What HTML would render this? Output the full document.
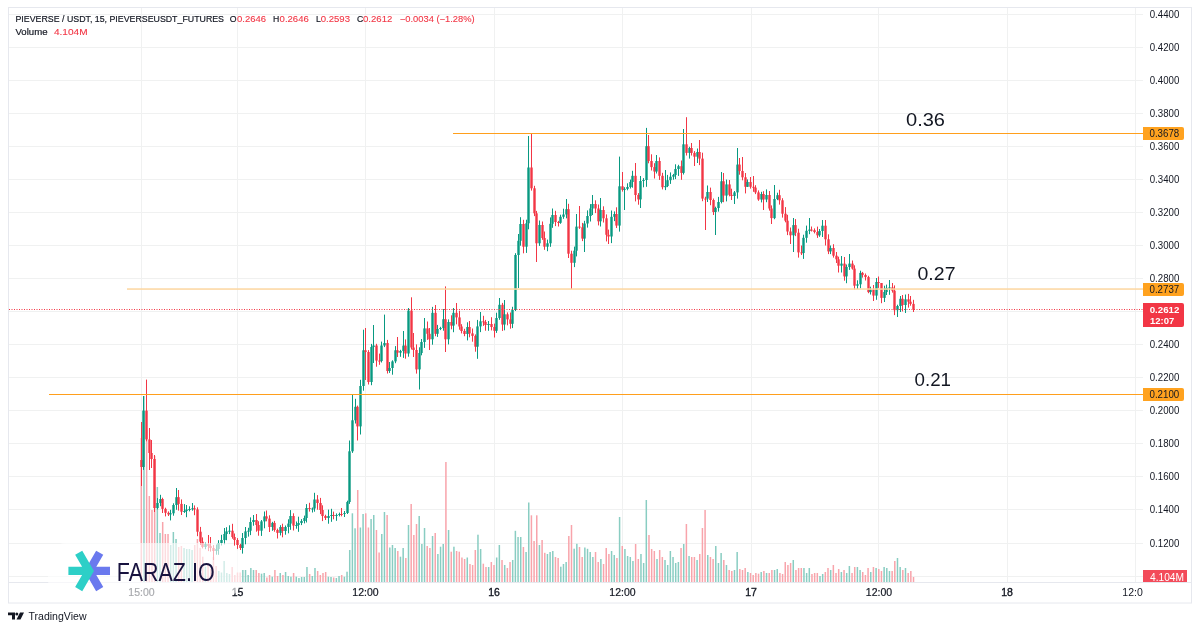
<!DOCTYPE html>
<html><head><meta charset="utf-8">
<style>
html,body{margin:0;padding:0;background:#fff;width:1200px;height:630px;overflow:hidden}
svg{display:block;will-change:transform}
text{font-family:"Liberation Sans",sans-serif}
</style></head>
<body>
<svg width="1200" height="630" viewBox="0 0 1200 630">
<rect x="0" y="0" width="1200" height="630" fill="#fff"/>
<rect x="9" y="14.00" width="1134" height="1" fill="#f0f1f1"/>
<rect x="9" y="47.00" width="1134" height="1" fill="#f0f1f1"/>
<rect x="9" y="80.00" width="1134" height="1" fill="#f0f1f1"/>
<rect x="9" y="113.00" width="1134" height="1" fill="#f0f1f1"/>
<rect x="9" y="146.00" width="1134" height="1" fill="#f0f1f1"/>
<rect x="9" y="179.00" width="1134" height="1" fill="#f0f1f1"/>
<rect x="9" y="212.00" width="1134" height="1" fill="#f0f1f1"/>
<rect x="9" y="245.00" width="1134" height="1" fill="#f0f1f1"/>
<rect x="9" y="278.00" width="1134" height="1" fill="#f0f1f1"/>
<rect x="9" y="311.00" width="1134" height="1" fill="#f0f1f1"/>
<rect x="9" y="344.00" width="1134" height="1" fill="#f0f1f1"/>
<rect x="9" y="377.00" width="1134" height="1" fill="#f0f1f1"/>
<rect x="9" y="410.00" width="1134" height="1" fill="#f0f1f1"/>
<rect x="9" y="443.00" width="1134" height="1" fill="#f0f1f1"/>
<rect x="9" y="476.00" width="1134" height="1" fill="#f0f1f1"/>
<rect x="9" y="509.00" width="1134" height="1" fill="#f0f1f1"/>
<rect x="9" y="543.00" width="1134" height="1" fill="#f0f1f1"/>
<rect x="9" y="576.00" width="1134" height="1" fill="#f0f1f1"/>
<rect x="141" y="8" width="1" height="574" fill="#f0f1f1"/>
<rect x="237" y="8" width="1" height="574" fill="#f0f1f1"/>
<rect x="365" y="8" width="1" height="574" fill="#f0f1f1"/>
<rect x="494" y="8" width="1" height="574" fill="#f0f1f1"/>
<rect x="622" y="8" width="1" height="574" fill="#f0f1f1"/>
<rect x="751" y="8" width="1" height="574" fill="#f0f1f1"/>
<rect x="878" y="8" width="1" height="574" fill="#f0f1f1"/>
<rect x="1007" y="8" width="1" height="574" fill="#f0f1f1"/>
<rect x="1135" y="8" width="1" height="574" fill="#f0f1f1"/>
<!-- chart border -->
<rect x="8.5" y="7.5" width="1183" height="595.5" fill="none" stroke="#e6e8ee" stroke-width="1"/>
<rect x="9" y="582" width="1182" height="1" fill="#e6e8ee"/>
<g id="vol"><rect x="140.55" y="438.0" width="1.5" height="144.0" fill="#f8a4ab"/>
<rect x="143.22" y="396.0" width="1.5" height="186.0" fill="#89cdc2"/>
<rect x="145.89" y="430.0" width="1.5" height="152.0" fill="#f8a4ab"/>
<rect x="148.57" y="496.0" width="1.5" height="86.0" fill="#f8a4ab"/>
<rect x="151.24" y="510.0" width="1.5" height="72.0" fill="#f8a4ab"/>
<rect x="153.91" y="456.0" width="1.5" height="126.0" fill="#f8a4ab"/>
<rect x="156.58" y="487.0" width="1.5" height="95.0" fill="#89cdc2"/>
<rect x="159.25" y="533.0" width="1.5" height="49.0" fill="#89cdc2"/>
<rect x="161.93" y="522.0" width="1.5" height="60.0" fill="#f8a4ab"/>
<rect x="164.60" y="534.0" width="1.5" height="48.0" fill="#f8a4ab"/>
<rect x="167.27" y="534.0" width="1.5" height="48.0" fill="#f8a4ab"/>
<rect x="169.94" y="545.0" width="1.5" height="37.0" fill="#89cdc2"/>
<rect x="172.61" y="532.0" width="1.5" height="50.0" fill="#89cdc2"/>
<rect x="175.29" y="539.0" width="1.5" height="43.0" fill="#89cdc2"/>
<rect x="177.96" y="547.0" width="1.5" height="35.0" fill="#f8a4ab"/>
<rect x="180.63" y="546.0" width="1.5" height="36.0" fill="#f8a4ab"/>
<rect x="183.30" y="548.0" width="1.5" height="34.0" fill="#89cdc2"/>
<rect x="185.97" y="549.0" width="1.5" height="33.0" fill="#89cdc2"/>
<rect x="188.65" y="549.0" width="1.5" height="33.0" fill="#89cdc2"/>
<rect x="191.32" y="550.0" width="1.5" height="32.0" fill="#89cdc2"/>
<rect x="193.99" y="545.0" width="1.5" height="37.0" fill="#f8a4ab"/>
<rect x="196.66" y="539.0" width="1.5" height="43.0" fill="#f8a4ab"/>
<rect x="199.33" y="547.9" width="1.5" height="34.1" fill="#f8a4ab"/>
<rect x="202.01" y="556.7" width="1.5" height="25.3" fill="#f8a4ab"/>
<rect x="204.68" y="566.7" width="1.5" height="15.3" fill="#89cdc2"/>
<rect x="207.35" y="563.0" width="1.5" height="19.0" fill="#f8a4ab"/>
<rect x="210.02" y="569.0" width="1.5" height="13.0" fill="#f8a4ab"/>
<rect x="212.69" y="557.0" width="1.5" height="25.0" fill="#f8a4ab"/>
<rect x="215.37" y="566.0" width="1.5" height="16.0" fill="#f8a4ab"/>
<rect x="218.04" y="571.0" width="1.5" height="11.0" fill="#89cdc2"/>
<rect x="220.71" y="572.5" width="1.5" height="9.5" fill="#89cdc2"/>
<rect x="223.38" y="561.0" width="1.5" height="21.0" fill="#89cdc2"/>
<rect x="226.05" y="573.0" width="1.5" height="9.0" fill="#89cdc2"/>
<rect x="228.73" y="574.0" width="1.5" height="8.0" fill="#89cdc2"/>
<rect x="231.40" y="567.0" width="1.5" height="15.0" fill="#f8a4ab"/>
<rect x="234.07" y="575.0" width="1.5" height="7.0" fill="#f8a4ab"/>
<rect x="236.74" y="572.5" width="1.5" height="9.5" fill="#f8a4ab"/>
<rect x="239.41" y="572.5" width="1.5" height="9.5" fill="#f8a4ab"/>
<rect x="242.09" y="570.0" width="1.5" height="12.0" fill="#89cdc2"/>
<rect x="244.76" y="570.0" width="1.5" height="12.0" fill="#89cdc2"/>
<rect x="247.43" y="575.0" width="1.5" height="7.0" fill="#89cdc2"/>
<rect x="250.10" y="568.0" width="1.5" height="14.0" fill="#89cdc2"/>
<rect x="252.77" y="570.0" width="1.5" height="12.0" fill="#89cdc2"/>
<rect x="255.45" y="570.0" width="1.5" height="12.0" fill="#f8a4ab"/>
<rect x="258.12" y="573.0" width="1.5" height="9.0" fill="#f8a4ab"/>
<rect x="260.79" y="573.7" width="1.5" height="8.3" fill="#89cdc2"/>
<rect x="263.46" y="573.0" width="1.5" height="9.0" fill="#89cdc2"/>
<rect x="266.13" y="577.5" width="1.5" height="4.5" fill="#f8a4ab"/>
<rect x="268.81" y="575.0" width="1.5" height="7.0" fill="#f8a4ab"/>
<rect x="271.48" y="576.7" width="1.5" height="5.3" fill="#89cdc2"/>
<rect x="274.15" y="570.0" width="1.5" height="12.0" fill="#f8a4ab"/>
<rect x="276.82" y="576.0" width="1.5" height="6.0" fill="#f8a4ab"/>
<rect x="279.49" y="573.0" width="1.5" height="9.0" fill="#89cdc2"/>
<rect x="282.17" y="575.0" width="1.5" height="7.0" fill="#f8a4ab"/>
<rect x="284.84" y="572.0" width="1.5" height="10.0" fill="#89cdc2"/>
<rect x="287.51" y="576.0" width="1.5" height="6.0" fill="#89cdc2"/>
<rect x="290.18" y="576.7" width="1.5" height="5.3" fill="#89cdc2"/>
<rect x="292.85" y="573.0" width="1.5" height="9.0" fill="#f8a4ab"/>
<rect x="295.53" y="576.7" width="1.5" height="5.3" fill="#89cdc2"/>
<rect x="298.20" y="578.0" width="1.5" height="4.0" fill="#89cdc2"/>
<rect x="300.87" y="577.0" width="1.5" height="5.0" fill="#89cdc2"/>
<rect x="303.54" y="577.0" width="1.5" height="5.0" fill="#89cdc2"/>
<rect x="306.21" y="567.0" width="1.5" height="15.0" fill="#89cdc2"/>
<rect x="308.89" y="574.0" width="1.5" height="8.0" fill="#f8a4ab"/>
<rect x="311.56" y="576.0" width="1.5" height="6.0" fill="#89cdc2"/>
<rect x="314.23" y="568.0" width="1.5" height="14.0" fill="#89cdc2"/>
<rect x="316.90" y="571.0" width="1.5" height="11.0" fill="#f8a4ab"/>
<rect x="319.57" y="575.0" width="1.5" height="7.0" fill="#f8a4ab"/>
<rect x="322.25" y="573.0" width="1.5" height="9.0" fill="#f8a4ab"/>
<rect x="324.92" y="572.0" width="1.5" height="10.0" fill="#f8a4ab"/>
<rect x="327.59" y="576.7" width="1.5" height="5.3" fill="#89cdc2"/>
<rect x="330.26" y="577.0" width="1.5" height="5.0" fill="#89cdc2"/>
<rect x="332.93" y="577.5" width="1.5" height="4.5" fill="#f8a4ab"/>
<rect x="335.61" y="578.0" width="1.5" height="4.0" fill="#89cdc2"/>
<rect x="338.28" y="576.0" width="1.5" height="6.0" fill="#89cdc2"/>
<rect x="340.95" y="575.0" width="1.5" height="7.0" fill="#f8a4ab"/>
<rect x="343.62" y="576.7" width="1.5" height="5.3" fill="#89cdc2"/>
<rect x="346.29" y="571.7" width="1.5" height="10.3" fill="#89cdc2"/>
<rect x="348.97" y="550.0" width="1.5" height="32.0" fill="#89cdc2"/>
<rect x="351.64" y="513.3" width="1.5" height="68.7" fill="#89cdc2"/>
<rect x="354.31" y="528.3" width="1.5" height="53.7" fill="#89cdc2"/>
<rect x="356.98" y="490.0" width="1.5" height="92.0" fill="#f8a4ab"/>
<rect x="359.65" y="527.5" width="1.5" height="54.5" fill="#89cdc2"/>
<rect x="362.33" y="514.0" width="1.5" height="68.0" fill="#89cdc2"/>
<rect x="365.00" y="513.3" width="1.5" height="68.7" fill="#f8a4ab"/>
<rect x="367.67" y="527.5" width="1.5" height="54.5" fill="#f8a4ab"/>
<rect x="370.34" y="519.0" width="1.5" height="63.0" fill="#89cdc2"/>
<rect x="373.01" y="515.0" width="1.5" height="67.0" fill="#89cdc2"/>
<rect x="375.69" y="530.0" width="1.5" height="52.0" fill="#f8a4ab"/>
<rect x="378.36" y="552.5" width="1.5" height="29.5" fill="#f8a4ab"/>
<rect x="381.03" y="534.0" width="1.5" height="48.0" fill="#89cdc2"/>
<rect x="383.70" y="512.0" width="1.5" height="70.0" fill="#89cdc2"/>
<rect x="386.37" y="515.0" width="1.5" height="67.0" fill="#f8a4ab"/>
<rect x="389.05" y="547.5" width="1.5" height="34.5" fill="#89cdc2"/>
<rect x="391.72" y="545.0" width="1.5" height="37.0" fill="#89cdc2"/>
<rect x="394.39" y="548.0" width="1.5" height="34.0" fill="#89cdc2"/>
<rect x="397.06" y="551.0" width="1.5" height="31.0" fill="#f8a4ab"/>
<rect x="399.73" y="556.7" width="1.5" height="25.3" fill="#89cdc2"/>
<rect x="402.41" y="548.0" width="1.5" height="34.0" fill="#89cdc2"/>
<rect x="405.08" y="558.0" width="1.5" height="24.0" fill="#f8a4ab"/>
<rect x="407.75" y="525.0" width="1.5" height="57.0" fill="#89cdc2"/>
<rect x="410.42" y="504.0" width="1.5" height="78.0" fill="#f8a4ab"/>
<rect x="413.09" y="535.0" width="1.5" height="47.0" fill="#f8a4ab"/>
<rect x="415.77" y="524.0" width="1.5" height="58.0" fill="#f8a4ab"/>
<rect x="418.44" y="516.0" width="1.5" height="66.0" fill="#89cdc2"/>
<rect x="421.11" y="544.0" width="1.5" height="38.0" fill="#89cdc2"/>
<rect x="423.78" y="528.0" width="1.5" height="54.0" fill="#89cdc2"/>
<rect x="426.45" y="546.0" width="1.5" height="36.0" fill="#f8a4ab"/>
<rect x="429.13" y="548.0" width="1.5" height="34.0" fill="#f8a4ab"/>
<rect x="431.80" y="536.0" width="1.5" height="46.0" fill="#89cdc2"/>
<rect x="434.47" y="533.0" width="1.5" height="49.0" fill="#f8a4ab"/>
<rect x="437.14" y="554.0" width="1.5" height="28.0" fill="#89cdc2"/>
<rect x="439.81" y="546.7" width="1.5" height="35.3" fill="#89cdc2"/>
<rect x="442.49" y="544.0" width="1.5" height="38.0" fill="#89cdc2"/>
<rect x="445.16" y="462.0" width="1.5" height="120.0" fill="#f8a4ab"/>
<rect x="447.83" y="530.0" width="1.5" height="52.0" fill="#89cdc2"/>
<rect x="450.50" y="551.7" width="1.5" height="30.3" fill="#f8a4ab"/>
<rect x="453.17" y="546.7" width="1.5" height="35.3" fill="#89cdc2"/>
<rect x="455.85" y="551.0" width="1.5" height="31.0" fill="#f8a4ab"/>
<rect x="458.52" y="551.7" width="1.5" height="30.3" fill="#f8a4ab"/>
<rect x="461.19" y="557.5" width="1.5" height="24.5" fill="#f8a4ab"/>
<rect x="463.86" y="559.0" width="1.5" height="23.0" fill="#f8a4ab"/>
<rect x="466.53" y="557.5" width="1.5" height="24.5" fill="#89cdc2"/>
<rect x="469.21" y="564.0" width="1.5" height="18.0" fill="#f8a4ab"/>
<rect x="471.88" y="565.0" width="1.5" height="17.0" fill="#f8a4ab"/>
<rect x="474.55" y="550.0" width="1.5" height="32.0" fill="#f8a4ab"/>
<rect x="477.22" y="534.7" width="1.5" height="47.3" fill="#89cdc2"/>
<rect x="479.89" y="549.0" width="1.5" height="33.0" fill="#89cdc2"/>
<rect x="482.57" y="563.7" width="1.5" height="18.3" fill="#f8a4ab"/>
<rect x="485.24" y="567.0" width="1.5" height="15.0" fill="#f8a4ab"/>
<rect x="487.91" y="567.0" width="1.5" height="15.0" fill="#89cdc2"/>
<rect x="490.58" y="562.0" width="1.5" height="20.0" fill="#f8a4ab"/>
<rect x="493.25" y="565.0" width="1.5" height="17.0" fill="#f8a4ab"/>
<rect x="495.93" y="557.5" width="1.5" height="24.5" fill="#89cdc2"/>
<rect x="498.60" y="545.0" width="1.5" height="37.0" fill="#89cdc2"/>
<rect x="501.27" y="560.0" width="1.5" height="22.0" fill="#f8a4ab"/>
<rect x="503.94" y="565.0" width="1.5" height="17.0" fill="#89cdc2"/>
<rect x="506.61" y="568.0" width="1.5" height="14.0" fill="#f8a4ab"/>
<rect x="509.29" y="562.0" width="1.5" height="20.0" fill="#f8a4ab"/>
<rect x="511.96" y="560.0" width="1.5" height="22.0" fill="#89cdc2"/>
<rect x="514.63" y="530.8" width="1.5" height="51.2" fill="#89cdc2"/>
<rect x="517.30" y="537.0" width="1.5" height="45.0" fill="#89cdc2"/>
<rect x="519.97" y="537.0" width="1.5" height="45.0" fill="#89cdc2"/>
<rect x="522.65" y="547.0" width="1.5" height="35.0" fill="#f8a4ab"/>
<rect x="525.32" y="552.0" width="1.5" height="30.0" fill="#89cdc2"/>
<rect x="527.99" y="502.5" width="1.5" height="79.5" fill="#89cdc2"/>
<rect x="530.66" y="515.3" width="1.5" height="66.7" fill="#f8a4ab"/>
<rect x="533.33" y="541.0" width="1.5" height="41.0" fill="#f8a4ab"/>
<rect x="536.01" y="515.3" width="1.5" height="66.7" fill="#f8a4ab"/>
<rect x="538.68" y="545.0" width="1.5" height="37.0" fill="#89cdc2"/>
<rect x="541.35" y="540.0" width="1.5" height="42.0" fill="#f8a4ab"/>
<rect x="544.02" y="552.8" width="1.5" height="29.2" fill="#f8a4ab"/>
<rect x="546.69" y="554.0" width="1.5" height="28.0" fill="#89cdc2"/>
<rect x="549.37" y="552.0" width="1.5" height="30.0" fill="#89cdc2"/>
<rect x="552.04" y="551.0" width="1.5" height="31.0" fill="#89cdc2"/>
<rect x="554.71" y="557.0" width="1.5" height="25.0" fill="#f8a4ab"/>
<rect x="557.38" y="558.0" width="1.5" height="24.0" fill="#f8a4ab"/>
<rect x="560.05" y="566.7" width="1.5" height="15.3" fill="#89cdc2"/>
<rect x="562.73" y="564.0" width="1.5" height="18.0" fill="#89cdc2"/>
<rect x="565.40" y="562.0" width="1.5" height="20.0" fill="#89cdc2"/>
<rect x="568.07" y="536.0" width="1.5" height="46.0" fill="#f8a4ab"/>
<rect x="570.74" y="525.0" width="1.5" height="57.0" fill="#f8a4ab"/>
<rect x="573.41" y="548.7" width="1.5" height="33.3" fill="#89cdc2"/>
<rect x="576.09" y="543.8" width="1.5" height="38.2" fill="#89cdc2"/>
<rect x="578.76" y="547.0" width="1.5" height="35.0" fill="#f8a4ab"/>
<rect x="581.43" y="557.0" width="1.5" height="25.0" fill="#f8a4ab"/>
<rect x="584.10" y="547.5" width="1.5" height="34.5" fill="#89cdc2"/>
<rect x="586.77" y="548.8" width="1.5" height="33.2" fill="#89cdc2"/>
<rect x="589.45" y="552.0" width="1.5" height="30.0" fill="#89cdc2"/>
<rect x="592.12" y="557.0" width="1.5" height="25.0" fill="#89cdc2"/>
<rect x="594.79" y="552.0" width="1.5" height="30.0" fill="#f8a4ab"/>
<rect x="597.46" y="562.0" width="1.5" height="20.0" fill="#f8a4ab"/>
<rect x="600.13" y="559.0" width="1.5" height="23.0" fill="#89cdc2"/>
<rect x="602.81" y="564.0" width="1.5" height="18.0" fill="#f8a4ab"/>
<rect x="605.48" y="548.0" width="1.5" height="34.0" fill="#f8a4ab"/>
<rect x="608.15" y="554.0" width="1.5" height="28.0" fill="#f8a4ab"/>
<rect x="610.82" y="551.0" width="1.5" height="31.0" fill="#89cdc2"/>
<rect x="613.49" y="555.0" width="1.5" height="27.0" fill="#89cdc2"/>
<rect x="616.17" y="558.0" width="1.5" height="24.0" fill="#f8a4ab"/>
<rect x="618.84" y="517.0" width="1.5" height="65.0" fill="#89cdc2"/>
<rect x="621.51" y="546.0" width="1.5" height="36.0" fill="#f8a4ab"/>
<rect x="624.18" y="549.0" width="1.5" height="33.0" fill="#89cdc2"/>
<rect x="626.85" y="556.0" width="1.5" height="26.0" fill="#89cdc2"/>
<rect x="629.53" y="557.0" width="1.5" height="25.0" fill="#89cdc2"/>
<rect x="632.20" y="561.0" width="1.5" height="21.0" fill="#89cdc2"/>
<rect x="634.87" y="544.0" width="1.5" height="38.0" fill="#f8a4ab"/>
<rect x="637.54" y="559.0" width="1.5" height="23.0" fill="#f8a4ab"/>
<rect x="640.21" y="554.0" width="1.5" height="28.0" fill="#89cdc2"/>
<rect x="642.89" y="563.0" width="1.5" height="19.0" fill="#89cdc2"/>
<rect x="645.56" y="500.0" width="1.5" height="82.0" fill="#89cdc2"/>
<rect x="648.23" y="535.0" width="1.5" height="47.0" fill="#f8a4ab"/>
<rect x="650.90" y="549.0" width="1.5" height="33.0" fill="#f8a4ab"/>
<rect x="653.57" y="551.0" width="1.5" height="31.0" fill="#f8a4ab"/>
<rect x="656.25" y="559.0" width="1.5" height="23.0" fill="#89cdc2"/>
<rect x="658.92" y="550.0" width="1.5" height="32.0" fill="#f8a4ab"/>
<rect x="661.59" y="557.0" width="1.5" height="25.0" fill="#f8a4ab"/>
<rect x="664.26" y="560.0" width="1.5" height="22.0" fill="#89cdc2"/>
<rect x="666.93" y="565.0" width="1.5" height="17.0" fill="#89cdc2"/>
<rect x="669.61" y="551.0" width="1.5" height="31.0" fill="#89cdc2"/>
<rect x="672.28" y="557.0" width="1.5" height="25.0" fill="#89cdc2"/>
<rect x="674.95" y="563.0" width="1.5" height="19.0" fill="#89cdc2"/>
<rect x="677.62" y="562.0" width="1.5" height="20.0" fill="#89cdc2"/>
<rect x="680.29" y="548.0" width="1.5" height="34.0" fill="#f8a4ab"/>
<rect x="682.97" y="544.0" width="1.5" height="38.0" fill="#89cdc2"/>
<rect x="685.64" y="524.0" width="1.5" height="58.0" fill="#f8a4ab"/>
<rect x="688.31" y="556.0" width="1.5" height="26.0" fill="#89cdc2"/>
<rect x="690.98" y="557.0" width="1.5" height="25.0" fill="#f8a4ab"/>
<rect x="693.65" y="557.0" width="1.5" height="25.0" fill="#f8a4ab"/>
<rect x="696.33" y="560.0" width="1.5" height="22.0" fill="#89cdc2"/>
<rect x="699.00" y="554.0" width="1.5" height="28.0" fill="#f8a4ab"/>
<rect x="701.67" y="528.0" width="1.5" height="54.0" fill="#f8a4ab"/>
<rect x="704.34" y="510.0" width="1.5" height="72.0" fill="#f8a4ab"/>
<rect x="707.01" y="555.0" width="1.5" height="27.0" fill="#89cdc2"/>
<rect x="709.69" y="557.0" width="1.5" height="25.0" fill="#f8a4ab"/>
<rect x="712.36" y="559.0" width="1.5" height="23.0" fill="#f8a4ab"/>
<rect x="715.03" y="546.0" width="1.5" height="36.0" fill="#89cdc2"/>
<rect x="717.70" y="563.0" width="1.5" height="19.0" fill="#89cdc2"/>
<rect x="720.37" y="553.0" width="1.5" height="29.0" fill="#89cdc2"/>
<rect x="723.05" y="560.0" width="1.5" height="22.0" fill="#f8a4ab"/>
<rect x="725.72" y="565.0" width="1.5" height="17.0" fill="#89cdc2"/>
<rect x="728.39" y="570.0" width="1.5" height="12.0" fill="#f8a4ab"/>
<rect x="731.06" y="571.0" width="1.5" height="11.0" fill="#f8a4ab"/>
<rect x="733.73" y="570.0" width="1.5" height="12.0" fill="#89cdc2"/>
<rect x="736.41" y="552.0" width="1.5" height="30.0" fill="#89cdc2"/>
<rect x="739.08" y="569.0" width="1.5" height="13.0" fill="#f8a4ab"/>
<rect x="741.75" y="570.0" width="1.5" height="12.0" fill="#f8a4ab"/>
<rect x="744.42" y="568.0" width="1.5" height="14.0" fill="#f8a4ab"/>
<rect x="747.09" y="572.0" width="1.5" height="10.0" fill="#89cdc2"/>
<rect x="749.77" y="573.0" width="1.5" height="9.0" fill="#f8a4ab"/>
<rect x="752.44" y="575.0" width="1.5" height="7.0" fill="#f8a4ab"/>
<rect x="755.11" y="573.0" width="1.5" height="9.0" fill="#f8a4ab"/>
<rect x="757.78" y="573.7" width="1.5" height="8.3" fill="#f8a4ab"/>
<rect x="760.45" y="572.0" width="1.5" height="10.0" fill="#89cdc2"/>
<rect x="763.13" y="571.0" width="1.5" height="11.0" fill="#f8a4ab"/>
<rect x="765.80" y="573.0" width="1.5" height="9.0" fill="#89cdc2"/>
<rect x="768.47" y="573.0" width="1.5" height="9.0" fill="#f8a4ab"/>
<rect x="771.14" y="570.0" width="1.5" height="12.0" fill="#f8a4ab"/>
<rect x="773.81" y="570.0" width="1.5" height="12.0" fill="#89cdc2"/>
<rect x="776.49" y="569.0" width="1.5" height="13.0" fill="#89cdc2"/>
<rect x="779.16" y="573.0" width="1.5" height="9.0" fill="#f8a4ab"/>
<rect x="781.83" y="574.0" width="1.5" height="8.0" fill="#f8a4ab"/>
<rect x="784.50" y="562.0" width="1.5" height="20.0" fill="#f8a4ab"/>
<rect x="787.17" y="565.0" width="1.5" height="17.0" fill="#f8a4ab"/>
<rect x="789.85" y="563.0" width="1.5" height="19.0" fill="#f8a4ab"/>
<rect x="792.52" y="560.0" width="1.5" height="22.0" fill="#89cdc2"/>
<rect x="795.19" y="570.0" width="1.5" height="12.0" fill="#f8a4ab"/>
<rect x="797.86" y="568.0" width="1.5" height="14.0" fill="#f8a4ab"/>
<rect x="800.53" y="568.0" width="1.5" height="14.0" fill="#f8a4ab"/>
<rect x="803.21" y="568.0" width="1.5" height="14.0" fill="#89cdc2"/>
<rect x="805.88" y="573.0" width="1.5" height="9.0" fill="#89cdc2"/>
<rect x="808.55" y="568.0" width="1.5" height="14.0" fill="#89cdc2"/>
<rect x="811.22" y="574.0" width="1.5" height="8.0" fill="#f8a4ab"/>
<rect x="813.89" y="573.0" width="1.5" height="9.0" fill="#f8a4ab"/>
<rect x="816.57" y="573.0" width="1.5" height="9.0" fill="#f8a4ab"/>
<rect x="819.24" y="576.0" width="1.5" height="6.0" fill="#89cdc2"/>
<rect x="821.91" y="574.0" width="1.5" height="8.0" fill="#89cdc2"/>
<rect x="824.58" y="572.0" width="1.5" height="10.0" fill="#f8a4ab"/>
<rect x="827.25" y="568.0" width="1.5" height="14.0" fill="#f8a4ab"/>
<rect x="829.93" y="570.0" width="1.5" height="12.0" fill="#89cdc2"/>
<rect x="832.60" y="565.0" width="1.5" height="17.0" fill="#f8a4ab"/>
<rect x="835.27" y="573.0" width="1.5" height="9.0" fill="#f8a4ab"/>
<rect x="837.94" y="569.0" width="1.5" height="13.0" fill="#f8a4ab"/>
<rect x="840.61" y="572.0" width="1.5" height="10.0" fill="#89cdc2"/>
<rect x="843.29" y="570.0" width="1.5" height="12.0" fill="#f8a4ab"/>
<rect x="845.96" y="573.0" width="1.5" height="9.0" fill="#89cdc2"/>
<rect x="848.63" y="566.0" width="1.5" height="16.0" fill="#89cdc2"/>
<rect x="851.30" y="573.0" width="1.5" height="9.0" fill="#f8a4ab"/>
<rect x="853.97" y="567.0" width="1.5" height="15.0" fill="#f8a4ab"/>
<rect x="856.65" y="567.0" width="1.5" height="15.0" fill="#89cdc2"/>
<rect x="859.32" y="570.0" width="1.5" height="12.0" fill="#89cdc2"/>
<rect x="861.99" y="572.0" width="1.5" height="10.0" fill="#f8a4ab"/>
<rect x="864.66" y="575.0" width="1.5" height="7.0" fill="#f8a4ab"/>
<rect x="867.33" y="568.0" width="1.5" height="14.0" fill="#f8a4ab"/>
<rect x="870.01" y="572.0" width="1.5" height="10.0" fill="#89cdc2"/>
<rect x="872.68" y="567.0" width="1.5" height="15.0" fill="#f8a4ab"/>
<rect x="875.35" y="568.0" width="1.5" height="14.0" fill="#89cdc2"/>
<rect x="878.02" y="569.0" width="1.5" height="13.0" fill="#f8a4ab"/>
<rect x="880.69" y="571.0" width="1.5" height="11.0" fill="#f8a4ab"/>
<rect x="883.37" y="567.0" width="1.5" height="15.0" fill="#89cdc2"/>
<rect x="886.04" y="568.0" width="1.5" height="14.0" fill="#89cdc2"/>
<rect x="888.71" y="571.0" width="1.5" height="11.0" fill="#89cdc2"/>
<rect x="891.38" y="571.0" width="1.5" height="11.0" fill="#f8a4ab"/>
<rect x="894.05" y="561.0" width="1.5" height="21.0" fill="#f8a4ab"/>
<rect x="896.73" y="558.0" width="1.5" height="24.0" fill="#89cdc2"/>
<rect x="899.40" y="567.0" width="1.5" height="15.0" fill="#89cdc2"/>
<rect x="902.07" y="570.0" width="1.5" height="12.0" fill="#f8a4ab"/>
<rect x="904.74" y="568.0" width="1.5" height="14.0" fill="#89cdc2"/>
<rect x="907.41" y="573.0" width="1.5" height="9.0" fill="#f8a4ab"/>
<rect x="910.09" y="571.0" width="1.5" height="11.0" fill="#f8a4ab"/>
<rect x="912.76" y="577.0" width="1.5" height="5.0" fill="#f8a4ab"/></g>
<g id="candles"><rect x="140.30" y="460.0" width="2.4" height="7.0" fill="#f23645"/>
<rect x="141.00" y="422.0" width="1.0" height="64.0" fill="#f23645"/>
<rect x="142.30" y="410.6" width="2.4" height="56.4" fill="#089981"/>
<rect x="143.00" y="396.0" width="1.0" height="73.9" fill="#089981"/>
<rect x="145.30" y="410.6" width="2.4" height="28.8" fill="#f23645"/>
<rect x="146.00" y="379.6" width="1.0" height="61.7" fill="#f23645"/>
<rect x="148.30" y="439.4" width="2.4" height="13.6" fill="#f23645"/>
<rect x="149.00" y="428.0" width="1.0" height="42.0" fill="#f23645"/>
<rect x="150.30" y="453.0" width="2.4" height="6.0" fill="#f23645"/>
<rect x="151.00" y="440.0" width="1.0" height="28.0" fill="#f23645"/>
<rect x="153.30" y="459.0" width="2.4" height="49.0" fill="#f23645"/>
<rect x="154.00" y="455.0" width="1.0" height="57.0" fill="#f23645"/>
<rect x="156.30" y="503.0" width="2.4" height="5.0" fill="#089981"/>
<rect x="157.00" y="498.1" width="1.0" height="11.3" fill="#089981"/>
<rect x="159.30" y="499.0" width="2.4" height="4.0" fill="#089981"/>
<rect x="160.00" y="494.8" width="1.0" height="11.4" fill="#089981"/>
<rect x="161.30" y="499.0" width="2.4" height="9.9" fill="#f23645"/>
<rect x="162.00" y="497.7" width="1.0" height="15.3" fill="#f23645"/>
<rect x="164.30" y="508.9" width="2.4" height="3.9" fill="#f23645"/>
<rect x="165.00" y="507.7" width="1.0" height="8.7" fill="#f23645"/>
<rect x="167.30" y="512.8" width="2.4" height="1.6" fill="#f23645"/>
<rect x="168.00" y="511.4" width="1.0" height="4.6" fill="#f23645"/>
<rect x="169.30" y="513.3" width="2.4" height="1.1" fill="#089981"/>
<rect x="170.00" y="509.8" width="1.0" height="10.6" fill="#089981"/>
<rect x="172.30" y="505.0" width="2.4" height="8.3" fill="#089981"/>
<rect x="173.00" y="503.3" width="1.0" height="12.4" fill="#089981"/>
<rect x="175.30" y="497.2" width="2.4" height="7.8" fill="#089981"/>
<rect x="176.00" y="488.0" width="1.0" height="21.8" fill="#089981"/>
<rect x="177.30" y="497.2" width="2.4" height="6.7" fill="#f23645"/>
<rect x="178.00" y="490.0" width="1.0" height="20.6" fill="#f23645"/>
<rect x="180.30" y="503.9" width="2.4" height="7.8" fill="#f23645"/>
<rect x="181.00" y="499.4" width="1.0" height="15.6" fill="#f23645"/>
<rect x="183.30" y="511.0" width="2.4" height="1.0" fill="#089981"/>
<rect x="184.00" y="504.1" width="1.0" height="8.8" fill="#089981"/>
<rect x="185.30" y="509.5" width="2.4" height="1.5" fill="#089981"/>
<rect x="186.00" y="505.0" width="1.0" height="12.2" fill="#089981"/>
<rect x="188.30" y="509.0" width="2.4" height="1.0" fill="#089981"/>
<rect x="189.00" y="506.3" width="1.0" height="5.1" fill="#089981"/>
<rect x="191.30" y="508.3" width="2.4" height="1.0" fill="#089981"/>
<rect x="192.00" y="503.0" width="1.0" height="7.7" fill="#089981"/>
<rect x="193.30" y="508.3" width="2.4" height="1.1" fill="#f23645"/>
<rect x="194.00" y="505.4" width="1.0" height="9.8" fill="#f23645"/>
<rect x="196.30" y="509.4" width="2.4" height="22.3" fill="#f23645"/>
<rect x="197.00" y="507.3" width="1.0" height="28.9" fill="#f23645"/>
<rect x="199.30" y="531.7" width="2.4" height="10.0" fill="#f23645"/>
<rect x="200.00" y="526.9" width="1.0" height="18.1" fill="#f23645"/>
<rect x="201.30" y="541.7" width="2.4" height="5.3" fill="#f23645"/>
<rect x="202.00" y="537.4" width="1.0" height="11.0" fill="#f23645"/>
<rect x="204.30" y="544.0" width="2.4" height="3.0" fill="#089981"/>
<rect x="205.00" y="542.6" width="1.0" height="6.6" fill="#089981"/>
<rect x="207.30" y="544.0" width="2.4" height="2.0" fill="#f23645"/>
<rect x="208.00" y="535.0" width="1.0" height="16.1" fill="#f23645"/>
<rect x="209.30" y="546.0" width="2.4" height="2.0" fill="#f23645"/>
<rect x="210.00" y="537.0" width="1.0" height="14.6" fill="#f23645"/>
<rect x="212.30" y="548.0" width="2.4" height="3.0" fill="#f23645"/>
<rect x="213.00" y="545.1" width="1.0" height="14.9" fill="#f23645"/>
<rect x="215.30" y="549.0" width="2.4" height="2.0" fill="#089981"/>
<rect x="216.00" y="544.5" width="1.0" height="10.2" fill="#089981"/>
<rect x="217.30" y="543.0" width="2.4" height="6.0" fill="#089981"/>
<rect x="218.00" y="540.2" width="1.0" height="14.6" fill="#089981"/>
<rect x="220.30" y="540.0" width="2.4" height="3.0" fill="#089981"/>
<rect x="221.00" y="534.8" width="1.0" height="10.7" fill="#089981"/>
<rect x="223.30" y="534.0" width="2.4" height="6.0" fill="#089981"/>
<rect x="224.00" y="528.0" width="1.0" height="16.4" fill="#089981"/>
<rect x="225.30" y="531.4" width="2.4" height="2.6" fill="#089981"/>
<rect x="226.00" y="527.2" width="1.0" height="13.0" fill="#089981"/>
<rect x="228.30" y="530.7" width="2.4" height="1.0" fill="#089981"/>
<rect x="229.00" y="525.3" width="1.0" height="8.8" fill="#089981"/>
<rect x="231.30" y="530.7" width="2.4" height="6.3" fill="#f23645"/>
<rect x="232.00" y="523.8" width="1.0" height="14.9" fill="#f23645"/>
<rect x="233.30" y="537.0" width="2.4" height="3.0" fill="#f23645"/>
<rect x="234.00" y="533.5" width="1.0" height="12.1" fill="#f23645"/>
<rect x="236.30" y="540.0" width="2.4" height="5.0" fill="#f23645"/>
<rect x="237.00" y="538.1" width="1.0" height="10.8" fill="#f23645"/>
<rect x="239.30" y="545.0" width="2.4" height="3.0" fill="#f23645"/>
<rect x="240.00" y="543.8" width="1.0" height="6.2" fill="#f23645"/>
<rect x="241.30" y="538.0" width="2.4" height="10.0" fill="#089981"/>
<rect x="242.00" y="533.0" width="1.0" height="20.6" fill="#089981"/>
<rect x="244.30" y="531.4" width="2.4" height="6.6" fill="#089981"/>
<rect x="245.00" y="527.0" width="1.0" height="17.3" fill="#089981"/>
<rect x="247.30" y="530.7" width="2.4" height="1.0" fill="#089981"/>
<rect x="248.00" y="527.8" width="1.0" height="8.8" fill="#089981"/>
<rect x="249.30" y="522.0" width="2.4" height="8.7" fill="#089981"/>
<rect x="250.00" y="517.4" width="1.0" height="17.7" fill="#089981"/>
<rect x="252.30" y="520.0" width="2.4" height="2.0" fill="#089981"/>
<rect x="253.00" y="515.0" width="1.0" height="10.7" fill="#089981"/>
<rect x="255.30" y="520.0" width="2.4" height="5.0" fill="#f23645"/>
<rect x="256.00" y="514.0" width="1.0" height="17.7" fill="#f23645"/>
<rect x="257.30" y="525.0" width="2.4" height="5.7" fill="#f23645"/>
<rect x="258.00" y="521.2" width="1.0" height="14.5" fill="#f23645"/>
<rect x="260.30" y="521.4" width="2.4" height="9.3" fill="#089981"/>
<rect x="261.00" y="520.0" width="1.0" height="15.9" fill="#089981"/>
<rect x="263.30" y="516.4" width="2.4" height="5.0" fill="#089981"/>
<rect x="264.00" y="511.5" width="1.0" height="16.8" fill="#089981"/>
<rect x="265.30" y="516.4" width="2.4" height="2.2" fill="#f23645"/>
<rect x="266.00" y="510.5" width="1.0" height="10.8" fill="#f23645"/>
<rect x="268.30" y="518.6" width="2.4" height="8.4" fill="#f23645"/>
<rect x="269.00" y="515.3" width="1.0" height="16.7" fill="#f23645"/>
<rect x="271.30" y="522.9" width="2.4" height="4.1" fill="#089981"/>
<rect x="272.00" y="521.8" width="1.0" height="9.0" fill="#089981"/>
<rect x="273.30" y="522.9" width="2.4" height="7.1" fill="#f23645"/>
<rect x="274.00" y="520.9" width="1.0" height="10.8" fill="#f23645"/>
<rect x="276.30" y="530.0" width="2.4" height="2.9" fill="#f23645"/>
<rect x="277.00" y="528.6" width="1.0" height="9.9" fill="#f23645"/>
<rect x="279.30" y="527.0" width="2.4" height="5.9" fill="#089981"/>
<rect x="280.00" y="525.2" width="1.0" height="10.2" fill="#089981"/>
<rect x="281.30" y="527.0" width="2.4" height="4.0" fill="#f23645"/>
<rect x="282.00" y="523.7" width="1.0" height="13.6" fill="#f23645"/>
<rect x="284.30" y="527.0" width="2.4" height="4.0" fill="#089981"/>
<rect x="285.00" y="525.5" width="1.0" height="9.2" fill="#089981"/>
<rect x="287.30" y="523.6" width="2.4" height="3.4" fill="#089981"/>
<rect x="288.00" y="519.3" width="1.0" height="14.0" fill="#089981"/>
<rect x="289.30" y="516.0" width="2.4" height="7.6" fill="#089981"/>
<rect x="290.00" y="510.1" width="1.0" height="19.7" fill="#089981"/>
<rect x="292.30" y="516.0" width="2.4" height="9.6" fill="#f23645"/>
<rect x="293.00" y="513.3" width="1.0" height="17.2" fill="#f23645"/>
<rect x="295.30" y="525.0" width="2.4" height="1.0" fill="#089981"/>
<rect x="296.00" y="521.5" width="1.0" height="7.2" fill="#089981"/>
<rect x="297.30" y="523.0" width="2.4" height="2.0" fill="#089981"/>
<rect x="298.00" y="516.7" width="1.0" height="15.1" fill="#089981"/>
<rect x="300.30" y="521.0" width="2.4" height="2.0" fill="#089981"/>
<rect x="301.00" y="519.1" width="1.0" height="6.0" fill="#089981"/>
<rect x="303.30" y="518.0" width="2.4" height="3.0" fill="#089981"/>
<rect x="304.00" y="515.6" width="1.0" height="7.8" fill="#089981"/>
<rect x="305.30" y="508.0" width="2.4" height="10.0" fill="#089981"/>
<rect x="306.00" y="504.1" width="1.0" height="18.4" fill="#089981"/>
<rect x="308.30" y="508.0" width="2.4" height="1.0" fill="#f23645"/>
<rect x="309.00" y="502.8" width="1.0" height="8.8" fill="#f23645"/>
<rect x="311.30" y="508.5" width="2.4" height="1.0" fill="#089981"/>
<rect x="312.00" y="507.5" width="1.0" height="5.0" fill="#089981"/>
<rect x="313.30" y="499.5" width="2.4" height="9.0" fill="#089981"/>
<rect x="314.00" y="492.8" width="1.0" height="18.9" fill="#089981"/>
<rect x="316.30" y="499.5" width="2.4" height="3.5" fill="#f23645"/>
<rect x="317.00" y="495.1" width="1.0" height="14.6" fill="#f23645"/>
<rect x="319.30" y="503.0" width="2.4" height="7.0" fill="#f23645"/>
<rect x="320.00" y="497.9" width="1.0" height="16.2" fill="#f23645"/>
<rect x="321.30" y="510.0" width="2.4" height="6.0" fill="#f23645"/>
<rect x="322.00" y="505.3" width="1.0" height="15.8" fill="#f23645"/>
<rect x="324.30" y="516.0" width="2.4" height="2.0" fill="#f23645"/>
<rect x="325.00" y="514.7" width="1.0" height="5.3" fill="#f23645"/>
<rect x="327.30" y="516.0" width="2.4" height="2.0" fill="#089981"/>
<rect x="328.00" y="509.6" width="1.0" height="14.1" fill="#089981"/>
<rect x="330.30" y="515.0" width="2.4" height="1.0" fill="#089981"/>
<rect x="331.00" y="508.8" width="1.0" height="13.0" fill="#089981"/>
<rect x="332.30" y="515.0" width="2.4" height="1.0" fill="#f23645"/>
<rect x="333.00" y="511.6" width="1.0" height="7.7" fill="#f23645"/>
<rect x="335.30" y="515.0" width="2.4" height="1.0" fill="#089981"/>
<rect x="336.00" y="513.4" width="1.0" height="7.4" fill="#089981"/>
<rect x="338.30" y="514.0" width="2.4" height="1.0" fill="#089981"/>
<rect x="339.00" y="512.6" width="1.0" height="3.8" fill="#089981"/>
<rect x="340.30" y="514.0" width="2.4" height="1.0" fill="#f23645"/>
<rect x="341.00" y="508.0" width="1.0" height="8.3" fill="#f23645"/>
<rect x="343.30" y="513.0" width="2.4" height="1.0" fill="#089981"/>
<rect x="344.00" y="511.0" width="1.0" height="6.0" fill="#089981"/>
<rect x="346.30" y="502.0" width="2.4" height="11.0" fill="#089981"/>
<rect x="347.00" y="500.7" width="1.0" height="13.3" fill="#089981"/>
<rect x="348.30" y="451.3" width="2.4" height="50.7" fill="#089981"/>
<rect x="349.00" y="440.5" width="1.0" height="63.4" fill="#089981"/>
<rect x="351.30" y="420.3" width="2.4" height="31.0" fill="#089981"/>
<rect x="352.00" y="394.0" width="1.0" height="58.9" fill="#089981"/>
<rect x="354.30" y="406.8" width="2.4" height="13.5" fill="#089981"/>
<rect x="355.00" y="398.8" width="1.0" height="24.7" fill="#089981"/>
<rect x="356.30" y="406.8" width="2.4" height="19.6" fill="#f23645"/>
<rect x="357.00" y="405.6" width="1.0" height="34.9" fill="#f23645"/>
<rect x="359.30" y="386.0" width="2.4" height="40.4" fill="#089981"/>
<rect x="360.00" y="379.8" width="1.0" height="54.7" fill="#089981"/>
<rect x="362.30" y="350.3" width="2.4" height="35.7" fill="#089981"/>
<rect x="363.00" y="329.7" width="1.0" height="61.0" fill="#089981"/>
<rect x="364.30" y="350.3" width="2.4" height="1.7" fill="#f23645"/>
<rect x="365.00" y="328.0" width="1.0" height="52.0" fill="#f23645"/>
<rect x="367.30" y="352.0" width="2.4" height="30.0" fill="#f23645"/>
<rect x="368.00" y="350.1" width="1.0" height="34.4" fill="#f23645"/>
<rect x="370.30" y="347.0" width="2.4" height="35.0" fill="#089981"/>
<rect x="371.00" y="343.9" width="1.0" height="41.3" fill="#089981"/>
<rect x="372.30" y="345.5" width="2.4" height="1.5" fill="#089981"/>
<rect x="373.00" y="325.0" width="1.0" height="38.0" fill="#089981"/>
<rect x="375.30" y="345.5" width="2.4" height="15.1" fill="#f23645"/>
<rect x="376.00" y="343.8" width="1.0" height="22.9" fill="#f23645"/>
<rect x="378.30" y="360.6" width="2.4" height="1.0" fill="#f23645"/>
<rect x="379.00" y="353.6" width="1.0" height="11.2" fill="#f23645"/>
<rect x="380.30" y="345.5" width="2.4" height="15.5" fill="#089981"/>
<rect x="381.00" y="341.6" width="1.0" height="20.9" fill="#089981"/>
<rect x="383.30" y="343.0" width="2.4" height="2.5" fill="#089981"/>
<rect x="384.00" y="314.6" width="1.0" height="32.5" fill="#089981"/>
<rect x="386.30" y="343.0" width="2.4" height="28.0" fill="#f23645"/>
<rect x="387.00" y="339.9" width="1.0" height="33.6" fill="#f23645"/>
<rect x="388.30" y="368.0" width="2.4" height="3.0" fill="#089981"/>
<rect x="389.00" y="362.0" width="1.0" height="10.9" fill="#089981"/>
<rect x="391.30" y="361.4" width="2.4" height="6.6" fill="#089981"/>
<rect x="392.00" y="360.3" width="1.0" height="14.4" fill="#089981"/>
<rect x="394.30" y="350.3" width="2.4" height="11.1" fill="#089981"/>
<rect x="395.00" y="346.1" width="1.0" height="17.1" fill="#089981"/>
<rect x="396.30" y="350.3" width="2.4" height="2.4" fill="#f23645"/>
<rect x="397.00" y="337.0" width="1.0" height="20.0" fill="#f23645"/>
<rect x="399.30" y="351.0" width="2.4" height="1.7" fill="#089981"/>
<rect x="400.00" y="349.8" width="1.0" height="7.0" fill="#089981"/>
<rect x="402.30" y="345.6" width="2.4" height="5.4" fill="#089981"/>
<rect x="403.00" y="331.0" width="1.0" height="26.9" fill="#089981"/>
<rect x="404.30" y="345.6" width="2.4" height="7.9" fill="#f23645"/>
<rect x="405.00" y="339.4" width="1.0" height="19.3" fill="#f23645"/>
<rect x="407.30" y="310.6" width="2.4" height="42.9" fill="#089981"/>
<rect x="408.00" y="308.0" width="1.0" height="48.7" fill="#089981"/>
<rect x="410.30" y="310.6" width="2.4" height="36.9" fill="#f23645"/>
<rect x="411.00" y="297.3" width="1.0" height="52.2" fill="#f23645"/>
<rect x="412.30" y="347.5" width="2.4" height="2.5" fill="#f23645"/>
<rect x="413.00" y="333.0" width="1.0" height="24.0" fill="#f23645"/>
<rect x="415.30" y="350.0" width="2.4" height="19.4" fill="#f23645"/>
<rect x="416.00" y="344.4" width="1.0" height="29.2" fill="#f23645"/>
<rect x="418.30" y="353.0" width="2.4" height="16.4" fill="#089981"/>
<rect x="419.00" y="347.3" width="1.0" height="42.2" fill="#089981"/>
<rect x="420.30" y="342.0" width="2.4" height="11.0" fill="#089981"/>
<rect x="421.00" y="339.0" width="1.0" height="16.3" fill="#089981"/>
<rect x="423.30" y="328.4" width="2.4" height="13.6" fill="#089981"/>
<rect x="424.00" y="318.0" width="1.0" height="29.9" fill="#089981"/>
<rect x="426.30" y="328.4" width="2.4" height="5.4" fill="#f23645"/>
<rect x="427.00" y="321.5" width="1.0" height="18.4" fill="#f23645"/>
<rect x="428.30" y="333.8" width="2.4" height="5.5" fill="#f23645"/>
<rect x="429.00" y="328.0" width="1.0" height="22.0" fill="#f23645"/>
<rect x="431.30" y="312.8" width="2.4" height="26.5" fill="#089981"/>
<rect x="432.00" y="306.9" width="1.0" height="37.8" fill="#089981"/>
<rect x="434.30" y="312.8" width="2.4" height="21.0" fill="#f23645"/>
<rect x="435.00" y="305.0" width="1.0" height="31.2" fill="#f23645"/>
<rect x="436.30" y="329.0" width="2.4" height="4.8" fill="#089981"/>
<rect x="437.00" y="324.9" width="1.0" height="12.0" fill="#089981"/>
<rect x="439.30" y="328.0" width="2.4" height="1.0" fill="#089981"/>
<rect x="440.00" y="326.8" width="1.0" height="3.3" fill="#089981"/>
<rect x="442.30" y="319.2" width="2.4" height="8.8" fill="#089981"/>
<rect x="443.00" y="309.0" width="1.0" height="21.7" fill="#089981"/>
<rect x="444.30" y="319.2" width="2.4" height="20.1" fill="#f23645"/>
<rect x="445.00" y="286.4" width="1.0" height="65.6" fill="#f23645"/>
<rect x="447.30" y="322.0" width="2.4" height="17.3" fill="#089981"/>
<rect x="448.00" y="319.4" width="1.0" height="25.0" fill="#089981"/>
<rect x="450.30" y="322.0" width="2.4" height="3.6" fill="#f23645"/>
<rect x="451.00" y="315.3" width="1.0" height="14.0" fill="#f23645"/>
<rect x="452.30" y="312.8" width="2.4" height="12.8" fill="#089981"/>
<rect x="453.00" y="308.0" width="1.0" height="24.2" fill="#089981"/>
<rect x="455.30" y="312.8" width="2.4" height="4.6" fill="#f23645"/>
<rect x="456.00" y="303.0" width="1.0" height="21.3" fill="#f23645"/>
<rect x="458.30" y="317.4" width="2.4" height="9.1" fill="#f23645"/>
<rect x="459.00" y="310.7" width="1.0" height="19.0" fill="#f23645"/>
<rect x="460.30" y="326.5" width="2.4" height="4.5" fill="#f23645"/>
<rect x="461.00" y="324.2" width="1.0" height="9.2" fill="#f23645"/>
<rect x="463.30" y="331.0" width="2.4" height="3.0" fill="#f23645"/>
<rect x="464.00" y="328.8" width="1.0" height="7.4" fill="#f23645"/>
<rect x="466.30" y="327.0" width="2.4" height="7.0" fill="#089981"/>
<rect x="467.00" y="322.3" width="1.0" height="18.1" fill="#089981"/>
<rect x="468.30" y="327.0" width="2.4" height="6.4" fill="#f23645"/>
<rect x="469.00" y="321.0" width="1.0" height="16.3" fill="#f23645"/>
<rect x="471.30" y="333.4" width="2.4" height="2.5" fill="#f23645"/>
<rect x="472.00" y="328.5" width="1.0" height="13.2" fill="#f23645"/>
<rect x="474.30" y="335.9" width="2.4" height="10.8" fill="#f23645"/>
<rect x="475.00" y="334.4" width="1.0" height="17.3" fill="#f23645"/>
<rect x="476.30" y="326.4" width="2.4" height="20.3" fill="#089981"/>
<rect x="477.00" y="319.9" width="1.0" height="38.9" fill="#089981"/>
<rect x="479.30" y="321.3" width="2.4" height="5.1" fill="#089981"/>
<rect x="480.00" y="312.0" width="1.0" height="20.1" fill="#089981"/>
<rect x="482.30" y="321.3" width="2.4" height="1.0" fill="#f23645"/>
<rect x="483.00" y="315.8" width="1.0" height="10.1" fill="#f23645"/>
<rect x="484.30" y="322.0" width="2.4" height="3.0" fill="#f23645"/>
<rect x="485.00" y="319.9" width="1.0" height="10.8" fill="#f23645"/>
<rect x="487.30" y="324.0" width="2.4" height="1.0" fill="#089981"/>
<rect x="488.00" y="321.0" width="1.0" height="9.8" fill="#089981"/>
<rect x="490.30" y="324.0" width="2.4" height="3.0" fill="#f23645"/>
<rect x="491.00" y="317.2" width="1.0" height="13.2" fill="#f23645"/>
<rect x="493.30" y="327.0" width="2.4" height="3.8" fill="#f23645"/>
<rect x="494.00" y="323.6" width="1.0" height="13.9" fill="#f23645"/>
<rect x="495.30" y="318.0" width="2.4" height="12.8" fill="#089981"/>
<rect x="496.00" y="312.7" width="1.0" height="20.2" fill="#089981"/>
<rect x="498.30" y="304.8" width="2.4" height="13.2" fill="#089981"/>
<rect x="499.00" y="298.0" width="1.0" height="21.8" fill="#089981"/>
<rect x="501.30" y="304.8" width="2.4" height="19.7" fill="#f23645"/>
<rect x="502.00" y="302.9" width="1.0" height="28.0" fill="#f23645"/>
<rect x="503.30" y="314.3" width="2.4" height="10.2" fill="#089981"/>
<rect x="504.00" y="300.0" width="1.0" height="30.3" fill="#089981"/>
<rect x="506.30" y="314.3" width="2.4" height="5.1" fill="#f23645"/>
<rect x="507.00" y="312.4" width="1.0" height="12.9" fill="#f23645"/>
<rect x="509.30" y="319.4" width="2.4" height="4.4" fill="#f23645"/>
<rect x="510.00" y="312.5" width="1.0" height="16.2" fill="#f23645"/>
<rect x="511.30" y="309.9" width="2.4" height="13.9" fill="#089981"/>
<rect x="512.00" y="306.8" width="1.0" height="21.3" fill="#089981"/>
<rect x="514.30" y="255.0" width="2.4" height="54.9" fill="#089981"/>
<rect x="515.00" y="253.2" width="1.0" height="57.8" fill="#089981"/>
<rect x="517.30" y="240.8" width="2.4" height="14.2" fill="#089981"/>
<rect x="518.00" y="234.0" width="1.0" height="54.0" fill="#089981"/>
<rect x="519.30" y="224.0" width="2.4" height="16.8" fill="#089981"/>
<rect x="520.00" y="217.2" width="1.0" height="28.5" fill="#089981"/>
<rect x="522.30" y="224.0" width="2.4" height="22.7" fill="#f23645"/>
<rect x="523.00" y="219.8" width="1.0" height="33.5" fill="#f23645"/>
<rect x="525.30" y="223.3" width="2.4" height="23.4" fill="#089981"/>
<rect x="526.00" y="219.7" width="1.0" height="33.2" fill="#089981"/>
<rect x="527.30" y="167.5" width="2.4" height="55.8" fill="#089981"/>
<rect x="528.00" y="136.0" width="1.0" height="93.3" fill="#089981"/>
<rect x="530.30" y="167.5" width="2.4" height="20.8" fill="#f23645"/>
<rect x="531.00" y="133.0" width="1.0" height="57.6" fill="#f23645"/>
<rect x="533.30" y="188.3" width="2.4" height="25.0" fill="#f23645"/>
<rect x="534.00" y="185.8" width="1.0" height="30.3" fill="#f23645"/>
<rect x="535.30" y="213.3" width="2.4" height="30.0" fill="#f23645"/>
<rect x="536.00" y="210.9" width="1.0" height="51.1" fill="#f23645"/>
<rect x="538.30" y="225.0" width="2.4" height="18.3" fill="#089981"/>
<rect x="539.00" y="220.5" width="1.0" height="25.4" fill="#089981"/>
<rect x="541.30" y="225.0" width="2.4" height="13.0" fill="#f23645"/>
<rect x="542.00" y="221.5" width="1.0" height="18.3" fill="#f23645"/>
<rect x="543.30" y="238.0" width="2.4" height="8.7" fill="#f23645"/>
<rect x="544.00" y="231.5" width="1.0" height="18.3" fill="#f23645"/>
<rect x="546.30" y="243.3" width="2.4" height="3.4" fill="#089981"/>
<rect x="547.00" y="239.6" width="1.0" height="11.6" fill="#089981"/>
<rect x="549.30" y="223.8" width="2.4" height="19.5" fill="#089981"/>
<rect x="550.00" y="217.4" width="1.0" height="29.4" fill="#089981"/>
<rect x="551.30" y="215.0" width="2.4" height="8.8" fill="#089981"/>
<rect x="552.00" y="208.5" width="1.0" height="19.3" fill="#089981"/>
<rect x="554.30" y="215.0" width="2.4" height="7.0" fill="#f23645"/>
<rect x="555.00" y="210.8" width="1.0" height="15.3" fill="#f23645"/>
<rect x="557.30" y="222.0" width="2.4" height="1.0" fill="#f23645"/>
<rect x="558.00" y="220.9" width="1.0" height="5.6" fill="#f23645"/>
<rect x="559.30" y="216.8" width="2.4" height="6.0" fill="#089981"/>
<rect x="560.00" y="214.7" width="1.0" height="9.1" fill="#089981"/>
<rect x="562.30" y="214.5" width="2.4" height="2.3" fill="#089981"/>
<rect x="563.00" y="208.7" width="1.0" height="10.1" fill="#089981"/>
<rect x="565.30" y="209.2" width="2.4" height="5.3" fill="#089981"/>
<rect x="566.00" y="199.0" width="1.0" height="19.3" fill="#089981"/>
<rect x="567.30" y="209.2" width="2.4" height="44.5" fill="#f23645"/>
<rect x="568.00" y="203.8" width="1.0" height="54.2" fill="#f23645"/>
<rect x="570.30" y="253.7" width="2.4" height="9.1" fill="#f23645"/>
<rect x="571.00" y="250.7" width="1.0" height="38.3" fill="#f23645"/>
<rect x="573.30" y="250.7" width="2.4" height="12.1" fill="#089981"/>
<rect x="574.00" y="246.6" width="1.0" height="20.5" fill="#089981"/>
<rect x="575.30" y="226.6" width="2.4" height="24.1" fill="#089981"/>
<rect x="576.00" y="214.0" width="1.0" height="42.4" fill="#089981"/>
<rect x="578.30" y="226.6" width="2.4" height="1.0" fill="#f23645"/>
<rect x="579.00" y="206.0" width="1.0" height="22.9" fill="#f23645"/>
<rect x="581.30" y="227.3" width="2.4" height="11.3" fill="#f23645"/>
<rect x="582.00" y="222.9" width="1.0" height="18.2" fill="#f23645"/>
<rect x="583.30" y="223.5" width="2.4" height="15.1" fill="#089981"/>
<rect x="584.00" y="220.8" width="1.0" height="31.2" fill="#089981"/>
<rect x="586.30" y="216.0" width="2.4" height="7.5" fill="#089981"/>
<rect x="587.00" y="210.4" width="1.0" height="17.2" fill="#089981"/>
<rect x="589.30" y="208.5" width="2.4" height="7.5" fill="#089981"/>
<rect x="590.00" y="204.1" width="1.0" height="17.4" fill="#089981"/>
<rect x="591.30" y="204.0" width="2.4" height="4.5" fill="#089981"/>
<rect x="592.00" y="195.0" width="1.0" height="20.0" fill="#089981"/>
<rect x="594.30" y="204.0" width="2.4" height="4.5" fill="#f23645"/>
<rect x="595.00" y="200.3" width="1.0" height="12.8" fill="#f23645"/>
<rect x="597.30" y="208.5" width="2.4" height="12.8" fill="#f23645"/>
<rect x="598.00" y="204.5" width="1.0" height="20.9" fill="#f23645"/>
<rect x="599.30" y="210.0" width="2.4" height="11.3" fill="#089981"/>
<rect x="600.00" y="198.0" width="1.0" height="28.5" fill="#089981"/>
<rect x="602.30" y="210.0" width="2.4" height="8.3" fill="#f23645"/>
<rect x="603.00" y="206.3" width="1.0" height="16.2" fill="#f23645"/>
<rect x="605.30" y="218.3" width="2.4" height="16.5" fill="#f23645"/>
<rect x="606.00" y="214.4" width="1.0" height="27.0" fill="#f23645"/>
<rect x="607.30" y="234.8" width="2.4" height="1.7" fill="#f23645"/>
<rect x="608.00" y="229.6" width="1.0" height="14.4" fill="#f23645"/>
<rect x="610.30" y="216.8" width="2.4" height="19.7" fill="#089981"/>
<rect x="611.00" y="210.5" width="1.0" height="32.6" fill="#089981"/>
<rect x="613.30" y="214.0" width="2.4" height="2.8" fill="#089981"/>
<rect x="614.00" y="211.4" width="1.0" height="9.7" fill="#089981"/>
<rect x="615.30" y="214.0" width="2.4" height="11.6" fill="#f23645"/>
<rect x="616.00" y="207.3" width="1.0" height="20.7" fill="#f23645"/>
<rect x="618.30" y="186.3" width="2.4" height="39.3" fill="#089981"/>
<rect x="619.00" y="156.6" width="1.0" height="75.0" fill="#089981"/>
<rect x="621.30" y="186.3" width="2.4" height="3.5" fill="#f23645"/>
<rect x="622.00" y="172.0" width="1.0" height="19.6" fill="#f23645"/>
<rect x="623.30" y="188.9" width="2.4" height="1.0" fill="#089981"/>
<rect x="624.00" y="187.2" width="1.0" height="22.8" fill="#089981"/>
<rect x="626.30" y="187.0" width="2.4" height="1.9" fill="#089981"/>
<rect x="627.00" y="183.3" width="1.0" height="7.0" fill="#089981"/>
<rect x="629.30" y="182.0" width="2.4" height="5.0" fill="#089981"/>
<rect x="630.00" y="179.6" width="1.0" height="8.9" fill="#089981"/>
<rect x="631.30" y="175.8" width="2.4" height="6.2" fill="#089981"/>
<rect x="632.00" y="170.8" width="1.0" height="16.9" fill="#089981"/>
<rect x="634.30" y="175.8" width="2.4" height="19.2" fill="#f23645"/>
<rect x="635.00" y="163.0" width="1.0" height="38.4" fill="#f23645"/>
<rect x="637.30" y="195.0" width="2.4" height="4.4" fill="#f23645"/>
<rect x="638.00" y="193.1" width="1.0" height="11.6" fill="#f23645"/>
<rect x="639.30" y="181.0" width="2.4" height="18.4" fill="#089981"/>
<rect x="640.00" y="176.0" width="1.0" height="32.0" fill="#089981"/>
<rect x="642.30" y="180.0" width="2.4" height="1.0" fill="#089981"/>
<rect x="643.00" y="178.1" width="1.0" height="9.2" fill="#089981"/>
<rect x="645.30" y="146.2" width="2.4" height="33.8" fill="#089981"/>
<rect x="646.00" y="127.9" width="1.0" height="58.9" fill="#089981"/>
<rect x="647.30" y="146.2" width="2.4" height="14.8" fill="#f23645"/>
<rect x="648.00" y="135.0" width="1.0" height="28.3" fill="#f23645"/>
<rect x="650.30" y="161.0" width="2.4" height="6.1" fill="#f23645"/>
<rect x="651.00" y="154.3" width="1.0" height="16.2" fill="#f23645"/>
<rect x="653.30" y="167.1" width="2.4" height="4.4" fill="#f23645"/>
<rect x="654.00" y="163.2" width="1.0" height="15.3" fill="#f23645"/>
<rect x="655.30" y="161.0" width="2.4" height="10.5" fill="#089981"/>
<rect x="656.00" y="155.0" width="1.0" height="18.5" fill="#089981"/>
<rect x="658.30" y="161.0" width="2.4" height="14.8" fill="#f23645"/>
<rect x="659.00" y="157.4" width="1.0" height="22.5" fill="#f23645"/>
<rect x="661.30" y="175.8" width="2.4" height="11.4" fill="#f23645"/>
<rect x="662.00" y="172.8" width="1.0" height="16.6" fill="#f23645"/>
<rect x="664.30" y="186.0" width="2.4" height="1.2" fill="#089981"/>
<rect x="665.00" y="170.0" width="1.0" height="20.1" fill="#089981"/>
<rect x="666.30" y="180.2" width="2.4" height="5.8" fill="#089981"/>
<rect x="667.00" y="174.9" width="1.0" height="12.2" fill="#089981"/>
<rect x="669.30" y="176.7" width="2.4" height="3.5" fill="#089981"/>
<rect x="670.00" y="172.4" width="1.0" height="11.5" fill="#089981"/>
<rect x="672.30" y="175.0" width="2.4" height="1.7" fill="#089981"/>
<rect x="673.00" y="173.9" width="1.0" height="5.8" fill="#089981"/>
<rect x="674.30" y="169.0" width="2.4" height="6.0" fill="#089981"/>
<rect x="675.00" y="164.3" width="1.0" height="14.8" fill="#089981"/>
<rect x="677.30" y="166.2" width="2.4" height="2.8" fill="#089981"/>
<rect x="678.00" y="164.8" width="1.0" height="11.1" fill="#089981"/>
<rect x="680.30" y="166.2" width="2.4" height="6.7" fill="#f23645"/>
<rect x="681.00" y="160.5" width="1.0" height="19.3" fill="#f23645"/>
<rect x="682.30" y="144.3" width="2.4" height="28.6" fill="#089981"/>
<rect x="683.00" y="129.0" width="1.0" height="45.5" fill="#089981"/>
<rect x="685.30" y="144.3" width="2.4" height="8.6" fill="#f23645"/>
<rect x="686.00" y="117.2" width="1.0" height="38.3" fill="#f23645"/>
<rect x="688.30" y="148.0" width="2.4" height="4.9" fill="#089981"/>
<rect x="689.00" y="146.8" width="1.0" height="11.8" fill="#089981"/>
<rect x="690.30" y="148.0" width="2.4" height="4.9" fill="#f23645"/>
<rect x="691.00" y="143.0" width="1.0" height="12.5" fill="#f23645"/>
<rect x="693.30" y="152.9" width="2.4" height="3.8" fill="#f23645"/>
<rect x="694.00" y="151.1" width="1.0" height="14.9" fill="#f23645"/>
<rect x="696.30" y="152.0" width="2.4" height="4.7" fill="#089981"/>
<rect x="697.00" y="148.5" width="1.0" height="14.5" fill="#089981"/>
<rect x="698.30" y="152.0" width="2.4" height="6.6" fill="#f23645"/>
<rect x="699.00" y="140.0" width="1.0" height="25.1" fill="#f23645"/>
<rect x="701.30" y="158.6" width="2.4" height="40.0" fill="#f23645"/>
<rect x="702.00" y="152.7" width="1.0" height="48.5" fill="#f23645"/>
<rect x="704.30" y="198.6" width="2.4" height="1.0" fill="#f23645"/>
<rect x="705.00" y="196.7" width="1.0" height="33.3" fill="#f23645"/>
<rect x="706.30" y="192.0" width="2.4" height="6.6" fill="#089981"/>
<rect x="707.00" y="185.5" width="1.0" height="16.5" fill="#089981"/>
<rect x="709.30" y="192.0" width="2.4" height="8.0" fill="#f23645"/>
<rect x="710.00" y="187.6" width="1.0" height="17.6" fill="#f23645"/>
<rect x="712.30" y="200.0" width="2.4" height="12.0" fill="#f23645"/>
<rect x="713.00" y="198.5" width="1.0" height="16.5" fill="#f23645"/>
<rect x="714.30" y="208.0" width="2.4" height="4.0" fill="#089981"/>
<rect x="715.00" y="206.7" width="1.0" height="28.3" fill="#089981"/>
<rect x="717.30" y="202.0" width="2.4" height="6.0" fill="#089981"/>
<rect x="718.00" y="196.9" width="1.0" height="14.7" fill="#089981"/>
<rect x="720.30" y="181.3" width="2.4" height="20.7" fill="#089981"/>
<rect x="721.00" y="172.0" width="1.0" height="31.4" fill="#089981"/>
<rect x="722.30" y="181.3" width="2.4" height="14.3" fill="#f23645"/>
<rect x="723.00" y="173.0" width="1.0" height="29.2" fill="#f23645"/>
<rect x="725.30" y="184.4" width="2.4" height="11.2" fill="#089981"/>
<rect x="726.00" y="179.6" width="1.0" height="21.8" fill="#089981"/>
<rect x="728.30" y="184.4" width="2.4" height="10.4" fill="#f23645"/>
<rect x="729.00" y="180.0" width="1.0" height="16.3" fill="#f23645"/>
<rect x="730.30" y="194.8" width="2.4" height="1.2" fill="#f23645"/>
<rect x="731.00" y="188.7" width="1.0" height="11.3" fill="#f23645"/>
<rect x="733.30" y="192.4" width="2.4" height="3.6" fill="#089981"/>
<rect x="734.00" y="191.0" width="1.0" height="13.0" fill="#089981"/>
<rect x="736.30" y="164.6" width="2.4" height="27.8" fill="#089981"/>
<rect x="737.00" y="148.0" width="1.0" height="50.6" fill="#089981"/>
<rect x="738.30" y="164.6" width="2.4" height="6.4" fill="#f23645"/>
<rect x="739.00" y="158.0" width="1.0" height="16.7" fill="#f23645"/>
<rect x="741.30" y="171.0" width="2.4" height="6.3" fill="#f23645"/>
<rect x="742.00" y="157.0" width="1.0" height="23.3" fill="#f23645"/>
<rect x="744.30" y="177.3" width="2.4" height="9.5" fill="#f23645"/>
<rect x="745.00" y="173.0" width="1.0" height="20.4" fill="#f23645"/>
<rect x="746.30" y="182.0" width="2.4" height="4.8" fill="#089981"/>
<rect x="747.00" y="179.4" width="1.0" height="7.6" fill="#089981"/>
<rect x="749.30" y="182.0" width="2.4" height="4.8" fill="#f23645"/>
<rect x="750.00" y="177.0" width="1.0" height="11.6" fill="#f23645"/>
<rect x="752.30" y="186.8" width="2.4" height="1.0" fill="#f23645"/>
<rect x="753.00" y="176.0" width="1.0" height="15.8" fill="#f23645"/>
<rect x="754.30" y="187.6" width="2.4" height="4.8" fill="#f23645"/>
<rect x="755.00" y="185.2" width="1.0" height="8.9" fill="#f23645"/>
<rect x="757.30" y="192.4" width="2.4" height="7.1" fill="#f23645"/>
<rect x="758.00" y="190.4" width="1.0" height="10.4" fill="#f23645"/>
<rect x="760.30" y="194.0" width="2.4" height="5.5" fill="#089981"/>
<rect x="761.00" y="191.8" width="1.0" height="10.6" fill="#089981"/>
<rect x="762.30" y="194.0" width="2.4" height="5.5" fill="#f23645"/>
<rect x="763.00" y="191.2" width="1.0" height="18.8" fill="#f23645"/>
<rect x="765.30" y="195.0" width="2.4" height="4.5" fill="#089981"/>
<rect x="766.00" y="189.4" width="1.0" height="12.8" fill="#089981"/>
<rect x="768.30" y="195.0" width="2.4" height="13.5" fill="#f23645"/>
<rect x="769.00" y="191.0" width="1.0" height="19.6" fill="#f23645"/>
<rect x="770.30" y="208.5" width="2.4" height="9.6" fill="#f23645"/>
<rect x="771.00" y="205.4" width="1.0" height="18.6" fill="#f23645"/>
<rect x="773.30" y="199.0" width="2.4" height="19.1" fill="#089981"/>
<rect x="774.00" y="185.0" width="1.0" height="34.2" fill="#089981"/>
<rect x="776.30" y="195.2" width="2.4" height="3.8" fill="#089981"/>
<rect x="777.00" y="192.7" width="1.0" height="7.4" fill="#089981"/>
<rect x="778.30" y="195.2" width="2.4" height="5.1" fill="#f23645"/>
<rect x="779.00" y="189.8" width="1.0" height="14.8" fill="#f23645"/>
<rect x="781.30" y="200.3" width="2.4" height="13.4" fill="#f23645"/>
<rect x="782.00" y="198.2" width="1.0" height="19.4" fill="#f23645"/>
<rect x="784.30" y="213.7" width="2.4" height="7.0" fill="#f23645"/>
<rect x="785.00" y="207.1" width="1.0" height="15.2" fill="#f23645"/>
<rect x="786.30" y="220.7" width="2.4" height="10.8" fill="#f23645"/>
<rect x="787.00" y="214.8" width="1.0" height="20.3" fill="#f23645"/>
<rect x="789.30" y="231.5" width="2.4" height="3.8" fill="#f23645"/>
<rect x="790.00" y="227.5" width="1.0" height="16.5" fill="#f23645"/>
<rect x="792.30" y="225.1" width="2.4" height="10.2" fill="#089981"/>
<rect x="793.00" y="218.0" width="1.0" height="34.0" fill="#089981"/>
<rect x="794.30" y="225.1" width="2.4" height="7.6" fill="#f23645"/>
<rect x="795.00" y="219.1" width="1.0" height="17.0" fill="#f23645"/>
<rect x="797.30" y="232.7" width="2.4" height="19.7" fill="#f23645"/>
<rect x="798.00" y="228.7" width="1.0" height="28.9" fill="#f23645"/>
<rect x="800.30" y="252.4" width="2.4" height="1.0" fill="#f23645"/>
<rect x="801.00" y="245.5" width="1.0" height="9.5" fill="#f23645"/>
<rect x="802.30" y="237.8" width="2.4" height="15.2" fill="#089981"/>
<rect x="803.00" y="234.7" width="1.0" height="24.2" fill="#089981"/>
<rect x="805.30" y="230.8" width="2.4" height="7.0" fill="#089981"/>
<rect x="806.00" y="225.6" width="1.0" height="17.1" fill="#089981"/>
<rect x="808.30" y="229.6" width="2.4" height="1.2" fill="#089981"/>
<rect x="809.00" y="218.0" width="1.0" height="16.2" fill="#089981"/>
<rect x="810.30" y="229.6" width="2.4" height="1.0" fill="#f23645"/>
<rect x="811.00" y="226.5" width="1.0" height="5.0" fill="#f23645"/>
<rect x="813.30" y="230.2" width="2.4" height="1.8" fill="#f23645"/>
<rect x="814.00" y="228.4" width="1.0" height="5.0" fill="#f23645"/>
<rect x="816.30" y="232.0" width="2.4" height="3.3" fill="#f23645"/>
<rect x="817.00" y="226.6" width="1.0" height="11.3" fill="#f23645"/>
<rect x="818.30" y="231.0" width="2.4" height="4.3" fill="#089981"/>
<rect x="819.00" y="229.0" width="1.0" height="7.8" fill="#089981"/>
<rect x="821.30" y="225.7" width="2.4" height="5.3" fill="#089981"/>
<rect x="822.00" y="220.0" width="1.0" height="17.0" fill="#089981"/>
<rect x="824.30" y="225.7" width="2.4" height="13.6" fill="#f23645"/>
<rect x="825.00" y="220.0" width="1.0" height="25.5" fill="#f23645"/>
<rect x="827.30" y="239.3" width="2.4" height="12.1" fill="#f23645"/>
<rect x="828.00" y="234.3" width="1.0" height="19.8" fill="#f23645"/>
<rect x="829.30" y="248.0" width="2.4" height="3.4" fill="#089981"/>
<rect x="830.00" y="245.5" width="1.0" height="8.6" fill="#089981"/>
<rect x="832.30" y="248.0" width="2.4" height="7.7" fill="#f23645"/>
<rect x="833.00" y="244.2" width="1.0" height="13.4" fill="#f23645"/>
<rect x="835.30" y="255.7" width="2.4" height="3.6" fill="#f23645"/>
<rect x="836.00" y="252.0" width="1.0" height="11.0" fill="#f23645"/>
<rect x="837.30" y="259.3" width="2.4" height="6.4" fill="#f23645"/>
<rect x="838.00" y="256.7" width="1.0" height="15.8" fill="#f23645"/>
<rect x="840.30" y="263.6" width="2.4" height="2.1" fill="#089981"/>
<rect x="841.00" y="256.0" width="1.0" height="16.5" fill="#089981"/>
<rect x="843.30" y="263.6" width="2.4" height="12.8" fill="#f23645"/>
<rect x="844.00" y="257.0" width="1.0" height="23.7" fill="#f23645"/>
<rect x="845.30" y="267.0" width="2.4" height="9.4" fill="#089981"/>
<rect x="846.00" y="264.5" width="1.0" height="18.7" fill="#089981"/>
<rect x="848.30" y="263.6" width="2.4" height="3.4" fill="#089981"/>
<rect x="849.00" y="254.0" width="1.0" height="15.9" fill="#089981"/>
<rect x="851.30" y="263.6" width="2.4" height="5.0" fill="#f23645"/>
<rect x="852.00" y="260.5" width="1.0" height="9.1" fill="#f23645"/>
<rect x="853.30" y="268.6" width="2.4" height="17.1" fill="#f23645"/>
<rect x="854.00" y="265.3" width="1.0" height="24.2" fill="#f23645"/>
<rect x="856.30" y="284.3" width="2.4" height="1.4" fill="#089981"/>
<rect x="857.00" y="280.3" width="1.0" height="8.7" fill="#089981"/>
<rect x="859.30" y="272.9" width="2.4" height="11.4" fill="#089981"/>
<rect x="860.00" y="270.7" width="1.0" height="17.6" fill="#089981"/>
<rect x="861.30" y="272.9" width="2.4" height="2.1" fill="#f23645"/>
<rect x="862.00" y="271.9" width="1.0" height="5.7" fill="#f23645"/>
<rect x="864.30" y="275.0" width="2.4" height="2.1" fill="#f23645"/>
<rect x="865.00" y="273.5" width="1.0" height="7.0" fill="#f23645"/>
<rect x="867.30" y="277.1" width="2.4" height="15.0" fill="#f23645"/>
<rect x="868.00" y="275.8" width="1.0" height="17.4" fill="#f23645"/>
<rect x="869.30" y="289.5" width="2.4" height="2.6" fill="#089981"/>
<rect x="870.00" y="286.7" width="1.0" height="7.8" fill="#089981"/>
<rect x="872.30" y="289.5" width="2.4" height="6.1" fill="#f23645"/>
<rect x="873.00" y="285.0" width="1.0" height="16.0" fill="#f23645"/>
<rect x="875.30" y="282.0" width="2.4" height="13.6" fill="#089981"/>
<rect x="876.00" y="278.0" width="1.0" height="21.8" fill="#089981"/>
<rect x="877.30" y="282.0" width="2.4" height="1.0" fill="#f23645"/>
<rect x="878.00" y="276.5" width="1.0" height="11.4" fill="#f23645"/>
<rect x="880.30" y="283.0" width="2.4" height="14.9" fill="#f23645"/>
<rect x="881.00" y="283.0" width="1.0" height="20.2" fill="#f23645"/>
<rect x="883.30" y="292.0" width="2.4" height="5.9" fill="#089981"/>
<rect x="884.00" y="285.7" width="1.0" height="16.3" fill="#089981"/>
<rect x="885.30" y="287.9" width="2.4" height="4.1" fill="#089981"/>
<rect x="886.00" y="284.6" width="1.0" height="10.4" fill="#089981"/>
<rect x="888.30" y="287.4" width="2.4" height="1.0" fill="#089981"/>
<rect x="889.00" y="280.0" width="1.0" height="14.8" fill="#089981"/>
<rect x="891.30" y="287.4" width="2.4" height="3.3" fill="#f23645"/>
<rect x="892.00" y="283.0" width="1.0" height="9.6" fill="#f23645"/>
<rect x="893.30" y="290.7" width="2.4" height="19.5" fill="#f23645"/>
<rect x="894.00" y="285.4" width="1.0" height="29.7" fill="#f23645"/>
<rect x="896.30" y="306.0" width="2.4" height="4.2" fill="#089981"/>
<rect x="897.00" y="304.7" width="1.0" height="12.3" fill="#089981"/>
<rect x="899.30" y="298.8" width="2.4" height="7.2" fill="#089981"/>
<rect x="900.00" y="296.0" width="1.0" height="16.0" fill="#089981"/>
<rect x="901.30" y="298.8" width="2.4" height="6.2" fill="#f23645"/>
<rect x="902.00" y="295.0" width="1.0" height="16.4" fill="#f23645"/>
<rect x="904.30" y="299.3" width="2.4" height="5.7" fill="#089981"/>
<rect x="905.00" y="294.5" width="1.0" height="18.5" fill="#089981"/>
<rect x="907.30" y="299.3" width="2.4" height="2.4" fill="#f23645"/>
<rect x="908.00" y="293.9" width="1.0" height="13.7" fill="#f23645"/>
<rect x="909.30" y="301.7" width="2.4" height="2.2" fill="#f23645"/>
<rect x="910.00" y="296.0" width="1.0" height="9.7" fill="#f23645"/>
<rect x="912.30" y="303.9" width="2.4" height="5.4" fill="#f23645"/>
<rect x="913.00" y="299.8" width="1.0" height="12.2" fill="#f23645"/></g>
<!-- horizontal levels -->
<rect x="453" y="133" width="690" height="1" fill="#ff9f1c"/>
<rect x="127" y="288.3" width="1016" height="1.5" fill="#fdd6a0"/>
<rect x="49" y="394" width="1094" height="1" fill="#ff9f1c"/>
<line x1="9" y1="309.5" x2="1143" y2="309.5" stroke="#f23645" stroke-width="1" stroke-dasharray="1 1.5"/>
<!-- annotations -->
<text x="906" y="126" font-size="18" fill="#131722" textLength="39" lengthAdjust="spacingAndGlyphs">0.36</text>
<text x="917.5" y="279.5" font-size="18" fill="#131722" textLength="38" lengthAdjust="spacingAndGlyphs">0.27</text>
<text x="914.5" y="386" font-size="18" fill="#131722" textLength="36.5" lengthAdjust="spacingAndGlyphs">0.21</text>
<!-- price axis labels -->
<g font-size="10" fill="#131722">
<text x="1149.7" y="17.7" textLength="29.6" lengthAdjust="spacingAndGlyphs">0.4400</text>
<text x="1149.7" y="50.7" textLength="29.6" lengthAdjust="spacingAndGlyphs">0.4200</text>
<text x="1149.7" y="83.7" textLength="29.6" lengthAdjust="spacingAndGlyphs">0.4000</text>
<text x="1149.7" y="116.7" textLength="29.6" lengthAdjust="spacingAndGlyphs">0.3800</text>
<text x="1149.7" y="149.7" textLength="29.6" lengthAdjust="spacingAndGlyphs">0.3600</text>
<text x="1149.7" y="182.7" textLength="29.6" lengthAdjust="spacingAndGlyphs">0.3400</text>
<text x="1149.7" y="215.7" textLength="29.6" lengthAdjust="spacingAndGlyphs">0.3200</text>
<text x="1149.7" y="248.7" textLength="29.6" lengthAdjust="spacingAndGlyphs">0.3000</text>
<text x="1149.7" y="281.7" textLength="29.6" lengthAdjust="spacingAndGlyphs">0.2800</text>
<text x="1149.7" y="347.7" textLength="29.6" lengthAdjust="spacingAndGlyphs">0.2400</text>
<text x="1149.7" y="380.7" textLength="29.6" lengthAdjust="spacingAndGlyphs">0.2200</text>
<text x="1149.7" y="413.7" textLength="29.6" lengthAdjust="spacingAndGlyphs">0.2000</text>
<text x="1149.7" y="446.7" textLength="29.6" lengthAdjust="spacingAndGlyphs">0.1800</text>
<text x="1149.7" y="479.7" textLength="29.6" lengthAdjust="spacingAndGlyphs">0.1600</text>
<text x="1149.7" y="512.7" textLength="29.6" lengthAdjust="spacingAndGlyphs">0.1400</text>
<text x="1149.7" y="546.7" textLength="29.6" lengthAdjust="spacingAndGlyphs">0.1200</text>
</g>
<!-- level labels -->
<path d="M1143 127 H1182 Q1184 127 1184 129 V138 Q1184 140 1182 140 H1143 Z" fill="#ffa21f"/>
<text x="1149.5" y="137" font-size="10" fill="#131722" textLength="29.7" lengthAdjust="spacingAndGlyphs">0.3678</text>
<path d="M1143 283 H1182 Q1184 283 1184 285 V294 Q1184 296 1182 296 H1143 Z" fill="#ffa21f"/>
<text x="1149.5" y="293" font-size="10" fill="#131722" textLength="29.7" lengthAdjust="spacingAndGlyphs">0.2737</text>
<path d="M1143 388 H1182 Q1184 388 1184 390 V399 Q1184 401 1182 401 H1143 Z" fill="#ffa21f"/>
<text x="1149.5" y="398" font-size="10" fill="#131722" textLength="29.7" lengthAdjust="spacingAndGlyphs">0.2100</text>
<path d="M1143 303 H1182 Q1184 303 1184 305 V325 Q1184 327 1182 327 H1143 Z" fill="#f23645"/>
<text x="1149.7" y="313.1" font-size="9" font-weight="bold" fill="#fff" textLength="29.7" lengthAdjust="spacingAndGlyphs">0.2612</text>
<text x="1150" y="323.7" font-size="9" font-weight="bold" fill="#fff" textLength="24.3" lengthAdjust="spacingAndGlyphs">12:07</text>
<path d="M1143 570 H1187 V582 H1143 Z" fill="#f34b5a"/>
<text x="1150" y="580.5" font-size="10" fill="#fff" textLength="34" lengthAdjust="spacingAndGlyphs">4.104M</text>
<!-- legend -->
<g font-size="8.7" fill="#131722" stroke="#131722" stroke-width="0.18">
<text x="15.5" y="21.5" textLength="208.5" lengthAdjust="spacingAndGlyphs">PIEVERSE / USDT, 15, PIEVERSEUSDT_FUTURES</text>
<text x="229.7" y="21.5">O</text>
<text x="273" y="21.5">H</text>
<text x="316" y="21.5">L</text>
<text x="357" y="21.5">C</text>
<text x="15.5" y="34.5" textLength="32" lengthAdjust="spacingAndGlyphs">Volume</text>
</g>
<g font-size="8.7" fill="#f23645" stroke="#f23645" stroke-width="0.1">
<text x="237" y="21.5" textLength="29" lengthAdjust="spacingAndGlyphs">0.2646</text>
<text x="279.6" y="21.5" textLength="29.2" lengthAdjust="spacingAndGlyphs">0.2646</text>
<text x="320.8" y="21.5" textLength="29.2" lengthAdjust="spacingAndGlyphs">0.2593</text>
<text x="363" y="21.5" textLength="29.3" lengthAdjust="spacingAndGlyphs">0.2612</text>
<text x="399.8" y="21.5" textLength="74.8" lengthAdjust="spacingAndGlyphs">&#8722;0.0034 (&#8722;1.28%)</text>
<text x="54" y="34.5" textLength="33.5" lengthAdjust="spacingAndGlyphs">4.104M</text>
</g>
<!-- time axis -->
<g font-size="10.5" fill="#131722" text-anchor="middle" stroke="#131722" stroke-width="0.2">
<text x="141.5" y="596">15:00</text>
<text x="237.5" y="596" stroke-width="0.35">15</text>
<text x="365.5" y="596">12:00</text>
<text x="494" y="596" stroke-width="0.35">16</text>
<text x="622.5" y="596">12:00</text>
<text x="751" y="596" stroke-width="0.35">17</text>
<text x="879" y="596">12:00</text>
<text x="1007" y="596" stroke-width="0.35">18</text>
</g>
<svg x="0" y="583" width="1143" height="20" overflow="hidden"><text x="1135.5" y="13" font-size="10.5" fill="#131722" text-anchor="middle">12:00</text></svg>
<!-- logo overlay -->
<rect x="48" y="543" width="193" height="55" rx="18" fill="#fff" fill-opacity="0.62"/>
<g transform="translate(89.2,570.9)">
  <polygon fill="#6a79ee" points="-4.74,0 6.95,-20.24 14.05,-16.14 7.1,-4.1 20.8,-4.1 20.8,4.1 7.1,4.1 14.05,16.14 6.95,20.24"/>
  <polygon fill="#2dcfc7" points="4.74,0 -6.95,-20.24 -14.05,-16.14 -7.1,-4.1 -20.8,-4.1 -20.8,4.1 -7.1,4.1 -14.05,16.14 -6.95,20.24"/>
</g>
<text x="116.8" y="580.7" font-size="25" fill="#18133f" textLength="97.8" lengthAdjust="spacingAndGlyphs">FARAZ.IO</text>
<!-- footer -->
<g fill="#131722">
<path d="M8 612.5 H15 V619.5 H12 V615.3 H8 Z"/>
<circle cx="16.8" cy="614" r="1.5"/>
<path d="M20 612.5 H24 L20.5 619.5 H16.5 Z"/>
</g>
<text x="28.5" y="619.5" font-size="10.5" fill="#131722" textLength="58" lengthAdjust="spacingAndGlyphs">TradingView</text>
</svg>
</body></html>
